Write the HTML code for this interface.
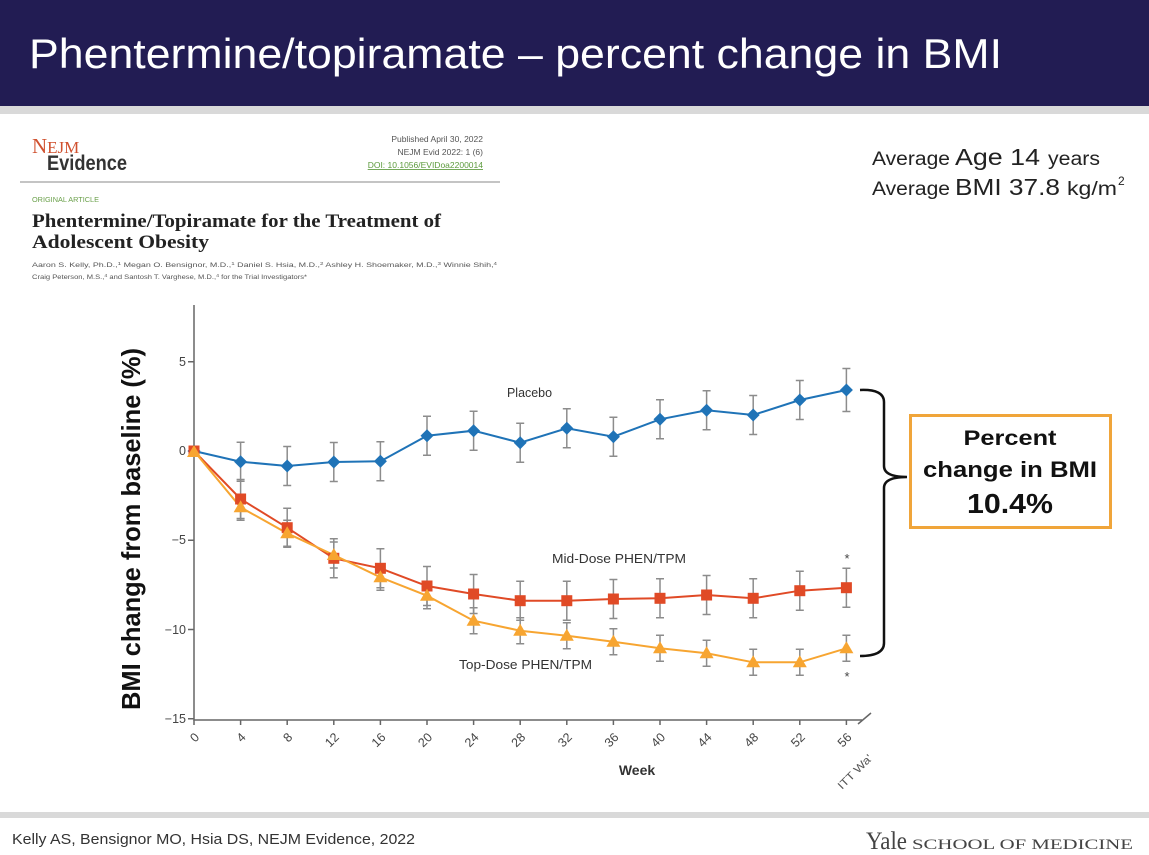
<!DOCTYPE html>
<html>
<head>
<meta charset="utf-8">
<style>
  html,body{margin:0;padding:0;background:#fff;}
  svg{display:block;}
  text{font-family:"Liberation Sans",Arial,sans-serif;}
  .serif{font-family:"Liberation Serif","Times New Roman",serif;}
</style>
</head>
<body>
<svg width="1149" height="855" viewBox="0 0 1149 855" xmlns="http://www.w3.org/2000/svg">
  <defs>
    <path id="dia" d="M0,-6.5 L6.5,0 L0,6.5 L-6.5,0Z"/>
    <path id="sq" d="M-5.5,-5.5 H5.5 V5.5 H-5.5Z"/>
    <path id="tri" d="M0,-7 L7,5 L-7,5Z"/>
  </defs>

  <!-- header -->
  <rect x="0" y="0" width="1149" height="106" fill="#221C53"/>
  <rect x="0" y="106" width="1149" height="8" fill="#D9D9D9"/>
  <text x="29" y="68" font-size="42" fill="#ffffff" textLength="973" lengthAdjust="spacingAndGlyphs">Phentermine/topiramate – percent change in BMI</text>

  <!-- NEJM article header -->
  <text class="serif" x="32" y="153" font-size="17" fill="#D0512F"><tspan font-size="21">N</tspan>EJM</text>
  <text x="47" y="170" font-size="21" fill="#333" font-weight="bold" textLength="80" lengthAdjust="spacingAndGlyphs">Evidence</text>
  <text x="483" y="142" font-size="8.5" fill="#555" text-anchor="end">Published April 30, 2022</text>
  <text x="483" y="155" font-size="8.5" fill="#555" text-anchor="end">NEJM Evid 2022: 1 (6)</text>
  <text x="483" y="168" font-size="8.5" fill="#5C9A3C" text-anchor="end" text-decoration="underline">DOI: 10.1056/EVIDoa2200014</text>
  <line x1="20" y1="182" x2="500" y2="182" stroke="#8a8a8a" stroke-width="1"/>
  <text x="32" y="202" font-size="7" fill="#6AA04A" textLength="67" lengthAdjust="spacingAndGlyphs">ORIGINAL ARTICLE</text>
  <text class="serif" x="32" y="227" font-size="19" font-weight="bold" fill="#222" textLength="409" lengthAdjust="spacingAndGlyphs">Phentermine/Topiramate for the Treatment of</text>
  <text class="serif" x="32" y="248" font-size="19" font-weight="bold" fill="#222" textLength="177" lengthAdjust="spacingAndGlyphs">Adolescent Obesity</text>
  <text x="32" y="267" font-size="6.5" fill="#555" textLength="465" lengthAdjust="spacingAndGlyphs">Aaron S. Kelly, Ph.D.,<tspan font-size="4.5" dy="-2">1</tspan><tspan dy="2"> Megan O. Bensignor, M.D.,</tspan><tspan font-size="4.5" dy="-2">1</tspan><tspan dy="2"> Daniel S. Hsia, M.D.,</tspan><tspan font-size="4.5" dy="-2">2</tspan><tspan dy="2"> Ashley H. Shoemaker, M.D.,</tspan><tspan font-size="4.5" dy="-2">3</tspan><tspan dy="2"> Winnie Shih,</tspan><tspan font-size="4.5" dy="-2">4</tspan></text>
  <text x="32" y="279" font-size="6.5" fill="#555" textLength="275" lengthAdjust="spacingAndGlyphs">Craig Peterson, M.S.,<tspan font-size="4.5" dy="-2">4</tspan><tspan dy="2"> and Santosh T. Varghese, M.D.,</tspan><tspan font-size="4.5" dy="-2">4</tspan><tspan dy="2"> for the Trial Investigators*</tspan></text>

  <!-- right info -->
  <text x="872" y="165" font-size="19" fill="#222" textLength="78" lengthAdjust="spacingAndGlyphs">Average</text>
  <text x="955" y="165" font-size="23" fill="#222" textLength="85" lengthAdjust="spacingAndGlyphs">Age 14</text>
  <text x="1048" y="165" font-size="19" fill="#222" textLength="52" lengthAdjust="spacingAndGlyphs">years</text>
  <text x="872" y="195" font-size="19" fill="#222" textLength="78" lengthAdjust="spacingAndGlyphs">Average</text>
  <text x="955" y="195" font-size="23" fill="#222" textLength="105" lengthAdjust="spacingAndGlyphs">BMI 37.8</text>
  <text x="1067" y="195" font-size="19" fill="#222" textLength="50" lengthAdjust="spacingAndGlyphs">kg/m</text>
  <text x="1118" y="185" font-size="12" fill="#222">2</text>

  <!-- axes -->
  <g stroke="#666" stroke-width="1.5" fill="none">
    <path d="M194,305 V720 H862"/>
    <path d="M858,724 L871,713"/>
    <path d="M188,361.75H194 M188,451H194 M188,540.25H194 M188,629.5H194 M188,718.75H194"/>
    <path d="M194,720v5 M240.6,720v5 M287.2,720v5 M333.8,720v5 M380.4,720v5 M427,720v5 M473.6,720v5 M520.2,720v5 M566.8,720v5 M613.4,720v5 M660,720v5 M706.6,720v5 M753.2,720v5 M799.8,720v5 M846.4,720v5"/>
  </g>
  <g font-size="12.5" fill="#444" text-anchor="end">
    <text x="186" y="366">5</text>
    <text x="186" y="455">0</text>
    <text x="186" y="544">−5</text>
    <text x="186" y="634">−10</text>
    <text x="186" y="723">−15</text>
  </g>
  <g font-size="12.5" fill="#444" text-anchor="end">
    <text transform="translate(200,738) rotate(-45)">0</text>
    <text transform="translate(246.6,738) rotate(-45)">4</text>
    <text transform="translate(293.2,738) rotate(-45)">8</text>
    <text transform="translate(339.8,738) rotate(-45)">12</text>
    <text transform="translate(386.4,738) rotate(-45)">16</text>
    <text transform="translate(433,738) rotate(-45)">20</text>
    <text transform="translate(479.6,738) rotate(-45)">24</text>
    <text transform="translate(526.2,738) rotate(-45)">28</text>
    <text transform="translate(572.8,738) rotate(-45)">32</text>
    <text transform="translate(619.4,738) rotate(-45)">36</text>
    <text transform="translate(666,738) rotate(-45)">40</text>
    <text transform="translate(712.6,738) rotate(-45)">44</text>
    <text transform="translate(759.2,738) rotate(-45)">48</text>
    <text transform="translate(805.8,738) rotate(-45)">52</text>
    <text transform="translate(852.4,738) rotate(-45)">56</text>
  </g>
  <text transform="translate(842,790) rotate(-45)" font-size="11" fill="#555" textLength="44" lengthAdjust="spacingAndGlyphs">ITT Wa'</text>
  <text x="637" y="775" font-size="14" font-weight="bold" fill="#333" text-anchor="middle">Week</text>
  <text transform="translate(140,529) rotate(-90)" font-size="26" font-weight="bold" fill="#111" text-anchor="middle" textLength="362" lengthAdjust="spacingAndGlyphs">BMI change from baseline (%)</text>

  <!-- error bars -->
  <g stroke="#8C8C8C" stroke-width="1.5" fill="none">
    <path d="M236.6,442.2h8M240.6,442.2V481.2M236.6,481.2h8
M283.2,446.5h8M287.2,446.5V485.5M283.2,485.5h8
M329.8,442.5h8M333.8,442.5V481.5M329.8,481.5h8
M376.4,441.8h8M380.4,441.8V480.8M376.4,480.8h8
M423,416.2h8M427,416.2V455.2M423,455.2h8
M469.6,411.2h8M473.6,411.2V450.2M469.6,450.2h8
M516.2,423.2h8M520.2,423.2V462.2M516.2,462.2h8
M562.8,408.8h8M566.8,408.8V447.8M562.8,447.8h8
M609.4,417.2h8M613.4,417.2V456.2M609.4,456.2h8
M656,399.8h8M660,399.8V438.8M656,438.8h8
M702.6,390.8h8M706.6,390.8V429.8M702.6,429.8h8
M749.2,395.5h8M753.2,395.5V434.5M749.2,434.5h8
M795.8,380.5h8M799.8,380.5V419.5M795.8,419.5h8
M842.4,368.5h8M846.4,368.5V411.5M842.4,411.5h8"/>
    <path d="M236.6,479.5h8M240.6,479.5V518.5M236.6,518.5h8
M283.2,508.2h8M287.2,508.2V547.2M283.2,547.2h8
M329.8,538.8h8M333.8,538.8V577.8M329.8,577.8h8
M376.4,548.8h8M380.4,548.8V587.8M376.4,587.8h8
M423,566.5h8M427,566.5V605.5M423,605.5h8
M469.6,574.5h8M473.6,574.5V613.5M469.6,613.5h8
M516.2,581.2h8M520.2,581.2V620.2M516.2,620.2h8
M562.8,581.2h8M566.8,581.2V620.2M562.8,620.2h8
M609.4,579.5h8M613.4,579.5V618.5M609.4,618.5h8
M656,578.8h8M660,578.8V617.8M656,617.8h8
M702.6,575.5h8M706.6,575.5V614.5M702.6,614.5h8
M749.2,578.8h8M753.2,578.8V617.8M749.2,617.8h8
M795.8,571.2h8M799.8,571.2V610.2M795.8,610.2h8
M842.4,568.2h8M846.4,568.2V607.2M842.4,607.2h8"/>
    <path d="M236.6,494.3h8M240.6,494.3V520.3M236.6,520.3h8
M283.2,520.3h8M287.2,520.3V546.3M283.2,546.3h8
M329.8,542h8M333.8,542V568M329.8,568h8
M376.4,564.3h8M380.4,564.3V590.3M376.4,590.3h8
M423,582.7h8M427,582.7V608.7M423,608.7h8
M469.6,607.7h8M473.6,607.7V633.7M469.6,633.7h8
M516.2,617.7h8M520.2,617.7V643.7M516.2,643.7h8
M562.8,622.7h8M566.8,622.7V648.7M562.8,648.7h8
M609.4,628.7h8M613.4,628.7V654.7M609.4,654.7h8
M656,635.3h8M660,635.3V661.3M656,661.3h8
M702.6,640.3h8M706.6,640.3V666.3M702.6,666.3h8
M749.2,649.3h8M753.2,649.3V675.3M749.2,675.3h8
M795.8,649.3h8M799.8,649.3V675.3M795.8,675.3h8
M842.4,635.3h8M846.4,635.3V661.3M842.4,661.3h8"/>
  </g>

  <!-- series lines -->
  <polyline fill="none" stroke="#1F73B7" stroke-width="2" points="194,451 240.6,461.7 287.2,466 333.8,462 380.4,461.3 427,435.7 473.6,430.7 520.2,442.7 566.8,428.3 613.4,436.7 660,419.3 706.6,410.3 753.2,415 799.8,400 846.4,390"/>
  <polyline fill="none" stroke="#E04A26" stroke-width="2" points="194,451 240.6,499 287.2,527.7 333.8,558.3 380.4,568.3 427,586 473.6,594 520.2,600.7 566.8,600.7 613.4,599 660,598.3 706.6,595 753.2,598.3 799.8,590.7 846.4,587.7"/>
  <polyline fill="none" stroke="#F7A531" stroke-width="2" points="194,451 240.6,507.3 287.2,533.3 333.8,555 380.4,577.3 427,595.7 473.6,620.7 520.2,630.7 566.8,635.7 613.4,641.7 660,648.3 706.6,653.3 753.2,662.3 799.8,662.3 846.4,648.3"/>

  <!-- markers -->
  <g fill="#1F73B7">
    <use href="#dia" x="194" y="451"/><use href="#dia" x="240.6" y="461.7"/><use href="#dia" x="287.2" y="466"/><use href="#dia" x="333.8" y="462"/><use href="#dia" x="380.4" y="461.3"/><use href="#dia" x="427" y="435.7"/><use href="#dia" x="473.6" y="430.7"/><use href="#dia" x="520.2" y="442.7"/><use href="#dia" x="566.8" y="428.3"/><use href="#dia" x="613.4" y="436.7"/><use href="#dia" x="660" y="419.3"/><use href="#dia" x="706.6" y="410.3"/><use href="#dia" x="753.2" y="415"/><use href="#dia" x="799.8" y="400"/><use href="#dia" x="846.4" y="390"/>
  </g>
  <g fill="#E04A26">
    <use href="#sq" x="194" y="451"/><use href="#sq" x="240.6" y="499"/><use href="#sq" x="287.2" y="527.7"/><use href="#sq" x="333.8" y="558.3"/><use href="#sq" x="380.4" y="568.3"/><use href="#sq" x="427" y="586"/><use href="#sq" x="473.6" y="594"/><use href="#sq" x="520.2" y="600.7"/><use href="#sq" x="566.8" y="600.7"/><use href="#sq" x="613.4" y="599"/><use href="#sq" x="660" y="598.3"/><use href="#sq" x="706.6" y="595"/><use href="#sq" x="753.2" y="598.3"/><use href="#sq" x="799.8" y="590.7"/><use href="#sq" x="846.4" y="587.7"/>
  </g>
  <g fill="#F7A531">
    <use href="#tri" x="194" y="452"/><use href="#tri" x="240.6" y="507.3"/><use href="#tri" x="287.2" y="533.3"/><use href="#tri" x="333.8" y="555"/><use href="#tri" x="380.4" y="577.3"/><use href="#tri" x="427" y="595.7"/><use href="#tri" x="473.6" y="620.7"/><use href="#tri" x="520.2" y="630.7"/><use href="#tri" x="566.8" y="635.7"/><use href="#tri" x="613.4" y="641.7"/><use href="#tri" x="660" y="648.3"/><use href="#tri" x="706.6" y="653.3"/><use href="#tri" x="753.2" y="662.3"/><use href="#tri" x="799.8" y="662.3"/><use href="#tri" x="846.4" y="648.3"/>
  </g>

  <!-- series labels -->
  <text x="507" y="397" font-size="13" fill="#333" textLength="45" lengthAdjust="spacingAndGlyphs">Placebo</text>
  <text x="552" y="563" font-size="13" fill="#333" textLength="134" lengthAdjust="spacingAndGlyphs">Mid-Dose PHEN/TPM</text>
  <text x="459" y="669" font-size="13" fill="#333" textLength="133" lengthAdjust="spacingAndGlyphs">Top-Dose PHEN/TPM</text>
  <text x="847" y="563" font-size="13" fill="#444" text-anchor="middle">*</text>
  <text x="847" y="681" font-size="13" fill="#444" text-anchor="middle">*</text>

  <!-- bracket -->
  <path d="M860,390 Q884,389 884,402 L884,466 Q884,477 907,477 Q884,477 884,488 L884,643 Q884,656 860,656" fill="none" stroke="#111" stroke-width="2.5"/>

  <!-- callout box -->
  <rect x="910.5" y="415.5" width="200" height="112" fill="#fff" stroke="#F0A53A" stroke-width="3"/>
  <text x="1010" y="445" font-size="21" font-weight="bold" fill="#111" text-anchor="middle" textLength="93" lengthAdjust="spacingAndGlyphs">Percent</text>
  <text x="1010" y="477" font-size="22" font-weight="bold" fill="#111" text-anchor="middle" textLength="174" lengthAdjust="spacingAndGlyphs">change in BMI</text>
  <text x="1010" y="513" font-size="28" font-weight="bold" fill="#111" text-anchor="middle" textLength="86" lengthAdjust="spacingAndGlyphs">10.4%</text>

  <!-- footer -->
  <rect x="0" y="812" width="1149" height="6" fill="#D9D9D9"/>
  <text x="12" y="844" font-size="15" fill="#333" textLength="403" lengthAdjust="spacingAndGlyphs">Kelly AS, Bensignor MO, Hsia DS, NEJM Evidence, 2022</text>
  <text class="serif" x="866" y="849" font-size="25" fill="#444" textLength="41" lengthAdjust="spacingAndGlyphs">Yale</text>
  <text class="serif" x="912" y="849" font-size="15" fill="#444" textLength="221" lengthAdjust="spacingAndGlyphs">SCHOOL OF MEDICINE</text>
</svg>
</body>
</html>
